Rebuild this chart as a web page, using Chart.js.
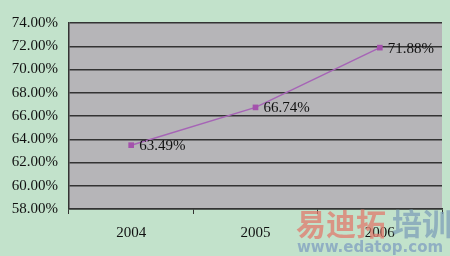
<!DOCTYPE html>
<html>
<head>
<meta charset="utf-8">
<script src="https://cdn.jsdelivr.net/npm/chart.js@4/dist/chart.umd.min.js"></script>
<style>
  html, body { margin: 0; padding: 0; background: #c2e2cb; }
  #wrap { width: 450px; height: 256px; }
</style>
</head>
<body>
<div id="wrap"><canvas id="chart1" width="450" height="256"></canvas></div>
<script>
const years = ['2004', '2005', '2006'];
const rates = [63.49, 66.74, 71.88];
const yMin = 58;
const yMax = 74;
const yStep = 2;

const ctx1 = document.getElementById('chart1').getContext('2d');

// gray plot area behind everything
const plotBg = {
  id: 'plotBg',
  beforeDraw(chart) {
    const a = chart.chartArea;
    const c = chart.ctx;
    c.save();
    c.fillStyle = '#b6b5b8';
    c.fillRect(a.left, a.top, a.right - a.left, a.bottom - a.top);
    c.restore();
  }
};

// value labels to the right of each point
const valueLabels = {
  id: 'valueLabels',
  afterDatasetsDraw(chart) {
    const c = chart.ctx;
    const meta = chart.getDatasetMeta(0);
    c.save();
    c.font = '15px "Liberation Serif", "Times New Roman", serif';
    c.fillStyle = '#111';
    c.textBaseline = 'middle';
    c.textAlign = 'left';
    meta.data.forEach(function(pt, i) {
      c.fillText(rates[i].toFixed(2) + '%', pt.x + 8, pt.y + 1);
    });
    c.restore();
  }
};

// site watermark in the bottom right corner
const watermark = {
  id: 'watermark',
  afterDraw(chart) {
    const c = chart.ctx;
    c.save();
    c.globalAlpha = 0.75;
    c.font = 'bold 30px "Noto Sans CJK SC", sans-serif';
    c.textBaseline = 'alphabetic';
    c.fillStyle = '#e07a6c';
    c.fillText('易迪拓', 296, 235);
    c.fillStyle = '#7d9fb8';
    c.fillText('培训', 392, 235);
    c.font = 'bold 15px "DejaVu Sans", sans-serif';
    c.fillStyle = '#7f9dc0';
    c.fillText('www.edatop.com', 297, 252);
    c.restore();
  }
};

new Chart(ctx1, {
  type: 'line',
  data: {
    labels: years,
    datasets: [{
      data: rates,
      borderColor: '#a664b6',
      backgroundColor: '#a452ac',
      borderWidth: 1.5,
      pointStyle: 'rect',
      pointRadius: 4,
      pointBorderWidth: 0,
      tension: 0
    }]
  },
  options: {
    responsive: false,
    animation: false,
    layout: { padding: { top: 23, right: 8, left: 0, bottom: 0 } },
    plugins: {
      legend: { display: false },
      tooltip: { enabled: false }
    },
    scales: {
      x: {
        offset: true,
        grid: {
          offset: true,
          drawOnChartArea: false,
          drawTicks: true,
          tickLength: 5,
          color: '#333'
        },
        border: { color: '#333', width: 1.5 },
        ticks: {
          color: '#111',
          padding: 10,
          font: { family: '"Liberation Serif", "Times New Roman", serif', size: 15 }
        },
        afterFit(scale) { scale.height = 47; }
      },
      y: {
        min: yMin,
        max: yMax,
        ticks: {
          stepSize: yStep,
          color: '#111',
          padding: 11,
          font: { family: '"Liberation Serif", "Times New Roman", serif', size: 15 },
          callback: function(v) { return v.toFixed(2) + '%'; }
        },
        grid: {
          color: '#333',
          lineWidth: 1.5,
          drawTicks: false
        },
        border: { color: '#333', width: 1.5 },
        afterFit(scale) { scale.width = 69; }
      }
    }
  },
  plugins: [plotBg, valueLabels, watermark]
});
</script>
</body>
</html>
